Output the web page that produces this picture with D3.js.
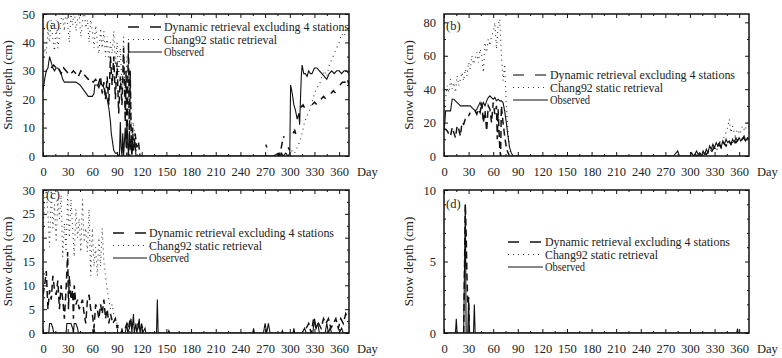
<!DOCTYPE html>
<html><head><meta charset="utf-8">
<script src="https://cdn.jsdelivr.net/npm/d3@7"></script>
<style>body{margin:0;background:#fff}svg{display:block}svg text{font-family:"Liberation Serif","Times New Roman",Times,"DejaVu Serif","Noto Serif",serif !important;fill:#222}</style>
</head><body><svg id="c" width="782" height="358"></svg>
<script>
// ---------- data ----------
const dayTicks = [0,30,60,90,120,150,180,210,240,270,300,330,360];
const legendLabels = ["Dynamic retrieval excluding 4 stations","Chang92 static retrieval","Observed"];

const obsA = [[0,23],[2,27],[4,30],[6,31],[8,35],[10,33],[12,31],[14,30],[16,31],[18,31],[20,30],[22,29],[24,27],[26,26],[30,26],[35,26],[40,26],[45,25],[50,23],[55,21],[60,21],[62,22],[63,25],[66,25],[68,24],[70,26],[72,25],[74,24],[76,22],[78,20],[80,17],[82,12],[83,8],[85,4],[86,2],[88,1],[90,1],[92,0],[93,0.5],[94,12],[95,3],[96,0],[97,8],[98,0],[100,10],[101,3],[102,12],[103,5],[104,0],[105,8],[106,2],[107,6],[108,1],[109,5],[110,2],[112,5],[113,0],[115,0],[120,0],[200,0],[280,0],[286,1],[288,0],[290,1],[292,0],[295,1],[298,0],[300,1],[301,25],[303,22],[305,18],[307,16],[309,13],[311,15],[312,11],[313,20],[314,28],[315,32],[317,29],[319,29],[321,28],[323,30],[325,29],[327,29],[330,31],[333,31],[336,30],[339,29],[342,28],[345,27],[348,29],[351,30],[354,29],[357,30],[360,30],[363,29],[366,30],[369,30],[372,29]];
const dynA = [[10,31],[13,32],[16,31],[19,31],[22,29],[25,31],[28,30],[31,29],[34,29],[37,30],[40,29],[43,28],[46,30],[49,29],[52,28],[55,27],[58,27],[61,26],[64,27],[67,25],[70,28],[72,22],[74,26],[76,20],[78,28],[80,18],[82,35],[84,25],[86,35],[88,20],[90,33],[92,15],[94,28],[96,18],[98,38],[100,12],[101,30],[102,0],[103,25],[104,40],[105,5],[106,30],[107,10],[108,0],[109,10],[110,2],[112,8],[114,3],[116,5],[118,0],[120,null],[270,null],[271,4],[272,3],[273,null],[283,null],[285,1],[287,0],[289,2],[291,5],[293,7],[295,null],[298,3],[300,2],[302,null],[304,8],[306,9],[308,7],[310,null],[313,17],[316,18],[318,17],[320,null],[327,18],[330,19],[333,18],[336,null],[338,20],[341,21],[344,20],[347,null],[350,22],[353,23],[356,22],[358,null],[361,25],[364,26],[367,26],[370,27],[372,25]];
const chgA = [[0,35],[2,38],[4,36],[6,44],[8,40],[10,48],[12,41],[14,37],[16,45],[18,38],[20,42],[22,48],[24,50],[26,44],[28,52],[30,46],[32,40],[34,50],[36,46],[38,52],[40,44],[42,48],[44,50],[46,42],[48,47],[50,52],[52,45],[54,48],[56,40],[58,48],[60,44],[62,38],[64,46],[66,40],[68,36],[70,45],[72,38],[74,44],[76,35],[78,42],[80,34],[82,40],[84,36],[86,44],[88,32],[90,40],[92,28],[94,38],[96,24],[98,42],[100,20],[102,35],[104,15],[106,28],[108,8],[110,12],[112,4],[115,0],[120,null],[288,null],[290,0],[295,1],[300,0],[303,2],[306,1],[309,3],[312,5],[315,8],[318,12],[321,14],[324,16],[327,19],[330,22],[333,24],[336,25],[339,28],[342,30],[345,28],[348,32],[351,34],[354,36],[357,38],[360,40],[363,43],[366,42],[369,45],[372,44]];

const obsB = [[0,16],[1,20],[2,27],[4,27],[6,27],[8,27],[10,34],[12,34],[14,33],[16,32],[18,31],[20,30],[24,30],[28,30],[32,30],[34,29],[36,28],[38,27],[40,28],[42,30],[44,32],[46,29],[48,32],[50,30],[52,33],[54,35],[56,36],[58,35],[60,34],[62,35],[64,33],[66,34],[68,33],[70,33],[72,32],[74,27],[76,20],[78,12],[80,5],[82,2],[84,0],[90,0],[280,0],[285,3],[287,0],[300,0],[302,2],[304,0],[306,1],[308,3],[310,1],[312,2],[314,0],[316,3],[318,1],[320,4],[322,2],[324,6],[326,4],[328,7],[330,5],[332,8],[334,6],[336,8],[338,5],[340,9],[342,7],[344,10],[346,8],[348,9],[350,7],[352,10],[354,8],[356,11],[358,9],[360,11],[362,9],[364,10],[366,12],[368,9],[370,11],[372,10]];
const dynB = [[0,16],[2,16],[4,15],[6,13],[8,12],[10,17],[12,14],[14,11],[16,18],[18,16],[20,12],[22,20],[24,19],[26,22],[28,23],[30,24],[32,26],[35,null],[38,27],[40,25],[42,28],[44,26],[46,32],[48,20],[50,27],[52,15],[54,30],[56,28],[58,20],[60,32],[62,25],[64,30],[65,10],[66,28],[68,5],[69,0],[70,30],[72,20],[74,12],[76,5],[78,2],[80,0],[82,null],[300,null],[305,1],[310,0],[315,2],[320,1],[323,3],[326,2],[329,5],[332,4],[335,7],[338,5],[341,8],[344,6],[347,9],[350,7],[353,10],[356,8],[359,10],[362,9],[365,11],[368,9],[372,8]];
const chgB = [[0,30],[2,35],[4,42],[6,38],[8,46],[10,40],[12,44],[14,38],[16,48],[18,42],[20,46],[22,50],[24,45],[26,52],[28,48],[30,56],[32,52],[34,60],[36,55],[38,58],[40,62],[42,56],[44,64],[46,60],[48,50],[50,68],[52,62],[54,70],[56,66],[58,72],[60,74],[62,80],[64,64],[66,78],[68,82],[70,60],[72,45],[74,55],[76,30],[78,15],[80,5],[82,0],[90,null],[320,null],[325,3],[330,6],[333,4],[336,9],[339,7],[342,12],[345,15],[348,22],[350,14],[352,18],[355,12],[358,16],[361,13],[364,18],[367,15],[370,20],[372,17]];

const obsC = [[0,0],[7,0],[8,2],[10,2],[12,1],[13,0],[28,0],[29,2],[34,2],[36,1],[37,0],[38,2],[40,2],[42,1],[43,0],[61,0],[62,1],[63,0],[95,0],[96,1],[97,0],[100,0],[102,2],[103,0],[105,1],[107,3],[108,0],[110,4],[111,0],[113,2],[114,0],[117,3],[118,0],[120,2],[121,0],[124,1],[125,0],[138,0],[139,7],[140,0],[152,0],[153,0.5],[154,0],[255,0],[256,1],[257,0],[268,0],[270,2],[272,0],[274,2],[276,0],[290,0],[291,0.5],[292,0],[304,0],[305,1],[306,0],[315,0],[318,1],[320,0],[328,0],[330,3],[332,1],[334,2],[336,0],[343,0],[345,2],[347,0],[349,1],[351,0],[360,0],[363,1],[365,0],[372,0]];
const dynC = [[0,8],[2,10],[4,13],[6,5],[8,9],[10,7],[12,12],[14,9],[16,8],[18,11],[20,5],[22,10],[24,7],[26,3],[28,9],[30,17],[31,5],[32,12],[34,7],[36,9],[37,3],[38,10],[40,6],[42,7],[44,5],[46,6],[48,7],[50,4],[52,2],[54,7],[56,8],[58,5],[60,4],[62,1],[64,6],[66,5],[68,3],[70,6],[72,4],[74,7],[76,3],[78,5],[80,2],[82,4],[85,2],[88,3],[90,1],[92,2],[95,null],[100,1],[102,2],[104,1],[106,3],[108,1],[110,2],[112,null],[115,2],[117,1],[119,2],[121,1],[123,null],[315,null],[320,1],[323,2],[326,0],[329,3],[332,1],[335,2],[338,1],[341,3],[344,2],[347,3],[350,1],[353,2],[356,3],[359,1],[362,3],[365,2],[368,4],[371,3]];
const chgC = [[0,22],[2,28],[4,30],[6,25],[8,18],[10,30],[12,22],[14,27],[16,19],[18,28],[20,24],[22,29],[24,16],[26,23],[28,17],[30,29],[32,20],[34,28],[36,22],[38,16],[40,26],[42,20],[44,24],[46,17],[48,28],[50,19],[52,22],[54,17],[56,26],[58,12],[60,22],[62,14],[64,18],[66,12],[68,20],[70,14],[72,22],[74,15],[76,12],[78,9],[80,7],[82,5],[84,6],[86,4],[88,3],[90,2],[92,1],[95,0]];

const obsD = [[0,0],[14,0],[15,1],[16,0],[24,0],[26,9],[27,0],[29,0],[30,2.5],[31,0],[36,0],[37,2],[38,0],[357,0],[358,0.3],[359,0],[372,0]];
const dynD = [[24,0],[26,9],[27,7],[28,4],[29,2],[30,2.5],[31,0]];
const chgD = [[24,0],[31,0]];

const yTicksA=[0,10,20,30,40,50], yTicksB=[0,20,40,60,80], yTicksC=[0,5,10,15,20,25,30], yTicksD=[0,5,10];

// ---------- layout ----------
const FONT = '"Liberation Serif","Times New Roman",Times,"DejaVu Serif","Noto Serif",serif';
const panels = [
 {id:"a",x0:43,x1:349,y0:14,y1:156,ymax:50,yt:yTicksA,ym:5,obs:obsA,dyn:dynA,chg:chgA,leg:[128,164,27],lab:[46,29]},
 {id:"b",x0:444,x1:749,y0:14,y1:156,ymax:85,yt:yTicksB,ym:10,obs:obsB,dyn:dynB,chg:chgB,leg:[513,550,75],lab:[446,30]},
 {id:"c",x0:43,x1:349,y0:190,y1:333,ymax:30,yt:yTicksC,ym:2.5,obs:obsC,dyn:dynC,chg:chgC,leg:[113,149,233],lab:[46,199]},
 {id:"d",x0:444,x1:749,y0:190,y1:333,ymax:10,yt:yTicksD,ym:1,obs:obsD,dyn:dynD,chg:chgD,leg:[508,545,242],lab:[446,208]}
];
const svg = d3.select("#c");
const defs = svg.append("defs");

function styleAxis(s){
  s.attr("font-family",FONT);
  s.select(".domain").remove();
  s.selectAll("text").attr("font-size",12.5).style("font-family",FONT).attr("fill","#222");
  s.selectAll("line").attr("stroke","#111");
}

panels.forEach(p=>{
  const x = d3.scaleLinear().domain([0,372]).range([p.x0,p.x1]);
  const y = d3.scaleLinear().domain([0,p.ymax]).range([p.y1,p.y0]);
  const g = svg.append("g");
  defs.append("clipPath").attr("id","clip"+p.id).append("rect")
    .attr("x",p.x0).attr("y",p.y0).attr("width",p.x1-p.x0).attr("height",p.y1-p.y0);
  const line = d3.line().defined(d=>d[1]!=null).x(d=>x(d[0])).y(d=>y(d[1]));
  const pg = g.append("g").attr("clip-path",`url(#clip${p.id})`);
  pg.append("path").datum(p.chg).attr("d",line).attr("fill","none").attr("stroke","#333")
    .attr("stroke-width",1.1).attr("stroke-dasharray","1,4");
  pg.append("path").datum(p.dyn).attr("d",line).attr("fill","none").attr("stroke","#111")
    .attr("stroke-width",1.5).attr("stroke-dasharray","7,4");
  pg.append("path").datum(p.obs).attr("d",line).attr("fill","none").attr("stroke","#111")
    .attr("stroke-width",1.1);

  const minorX = d3.range(0,373,15).filter(v=>v%30);
  g.append("g").attr("transform",`translate(0,${p.y1})`).call(d3.axisBottom(x).tickValues(dayTicks).tickSize(-4).tickPadding(11)).call(styleAxis);
  g.append("g").attr("transform",`translate(0,${p.y0})`).call(d3.axisTop(x).tickValues(dayTicks).tickSize(-4).tickFormat("")).call(styleAxis);
  g.append("g").attr("transform",`translate(0,${p.y1})`).call(d3.axisBottom(x).tickValues(minorX).tickSize(-2).tickFormat("")).call(styleAxis);
  g.append("g").attr("transform",`translate(0,${p.y0})`).call(d3.axisTop(x).tickValues(minorX).tickSize(-2).tickFormat("")).call(styleAxis);
  const minorY = d3.range(0,p.ymax+0.001,p.ym).filter(v=>!p.yt.includes(v));
  g.append("g").attr("transform",`translate(${p.x0},0)`).call(d3.axisLeft(y).tickValues(p.yt).tickSize(-4).tickPadding(8)).call(styleAxis);
  g.append("g").attr("transform",`translate(${p.x1},0)`).call(d3.axisRight(y).tickValues(p.yt).tickSize(-4).tickFormat("")).call(styleAxis);
  g.append("g").attr("transform",`translate(${p.x0},0)`).call(d3.axisLeft(y).tickValues(minorY).tickSize(-2).tickFormat("")).call(styleAxis);
  g.append("g").attr("transform",`translate(${p.x1},0)`).call(d3.axisRight(y).tickValues(minorY).tickSize(-2).tickFormat("")).call(styleAxis);

  g.append("rect").attr("x",p.x0).attr("y",p.y0).attr("width",p.x1-p.x0).attr("height",p.y1-p.y0)
   .attr("fill","none").attr("stroke","#111").attr("stroke-width",1.5);

  g.append("text").attr("x",p.x1+8).attr("y",p.y1+20).attr("font-size",12.5).style("font-family",FONT).text("Day");
  g.append("text").attr("transform",`translate(${p.x0-31},${(p.y0+p.y1)/2}) rotate(-90)`)
   .attr("text-anchor","middle").attr("font-size",13).style("font-family",FONT).attr("fill","#333").text("Snow depth (cm)");
  g.append("text").attr("x",p.lab[0]).attr("y",p.lab[1]).attr("font-size",12.5).style("font-family",FONT).text(`(${p.id})`);

  const [lx,tx,ly] = p.leg;
  const styles = [
    {dash:"11,11",w:1.5,c:p.id==="b"?"#555":"#111"},
    {dash:"1,4",w:1.1,c:"#333"},
    {dash:null,w:1.1,c:"#111"}];
  const widths=[185,113,40];
  legendLabels.forEach((t,i)=>{
    const yy = ly + i*12.5;
    g.append("line").attr("x1",lx).attr("x2",tx-2).attr("y1",yy).attr("y2",yy)
     .attr("stroke",styles[i].c).attr("stroke-width",styles[i].w).attr("stroke-dasharray",styles[i].dash);
    g.append("text").attr("x",tx).attr("y",yy+4).attr("font-size",12).style("font-family",FONT)
     .attr("textLength",widths[i]).attr("lengthAdjust","spacingAndGlyphs").text(t);
  });
});
</script></body></html>
